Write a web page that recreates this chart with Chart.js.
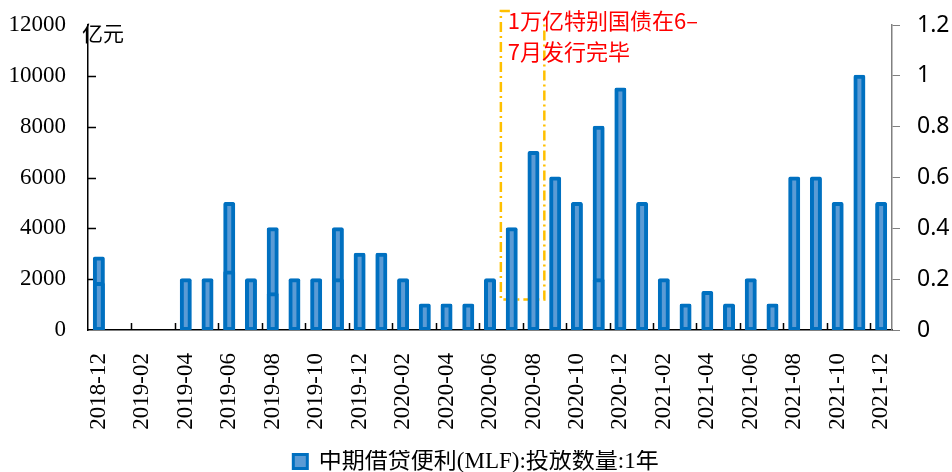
<!DOCTYPE html>
<html>
<head>
<meta charset="utf-8">
<script src="https://cdn.jsdelivr.net/npm/chart.js@4.4.1/dist/chart.umd.min.js"></script>
<style>
  html, body { margin: 0; padding: 0; background: #fff; }
</style>
</head>
<body>
<canvas id="mlf" width="952" height="472"></canvas>
<script>
const months = [
  '2018-12', '2019-01', '2019-02', '2019-03', '2019-04', '2019-05', '2019-06',
  '2019-07', '2019-08', '2019-09', '2019-10', '2019-11', '2019-12', '2020-01',
  '2020-02', '2020-03', '2020-04', '2020-05', '2020-06', '2020-07', '2020-08',
  '2020-09', '2020-10', '2020-11', '2020-12', '2021-01', '2021-02', '2021-03',
  '2021-04', '2021-05', '2021-06', '2021-07', '2021-08', '2021-09', '2021-10',
  '2021-11', '2021-12'
];

// monthly MLF volume (1y), 亿元
const mlfAmount = [
  2850, null, null, null, 2000, 2000, 5000,
  2000, 4000, 2000, 2000, 4000, 3000, 3000,
  2000, 1000, 1000, 1000, 2000, 4000, 7000,
  6000, 5000, 8000, 9500, 5000, 2000, 1000,
  1500, 1000, 2000, 1000, 6000, 6000, 5000,
  10000, 5000
];

// first operation of the month where there were two
const mlfFirstOp = [
  1850, null, null, null, null, null, 2300,
  null, 1450, null, null, 2000, null, null,
  null, null, null, null, null, null, null,
  null, null, 2000, null, null, null, null,
  null, null, null, null, null, null, null,
  null, null
];

const seriesName = '中期借贷便利(MLF):投放数量:1年';
const bondWindow = ['2020-07', '2020-08'];
const bondBoxFloor = 1200;
const bondNoteLines = ['1万亿特别国债在6–', '7月发行完毕'];

const serif = "'Liberation Serif', 'Noto Sans CJK SC', serif";
const cjk = "'Noto Sans CJK SC', sans-serif";

const barStyle = {
  backgroundColor: '#5B9BD5',
  borderColor: '#0070C0',
  borderWidth: 4,
  borderRadius: 2,
  borderSkipped: false,
  inflateAmount: 1,
  barPercentage: 0.46,
  categoryPercentage: 1,
  grouped: false,
  yAxisID: 'y'
};

// fixed-width value axes; drop the label overhang so layout.padding sets the top
const fixWidth = w => s => {
  s.width = w;
  s.paddingTop = 0;
  s.paddingBottom = 0;
};

// short tick marks pointing into the plot on the left and bottom axes
const inwardTicks = {
  id: 'inwardTicks',
  beforeDatasetsDraw(chart) {
    const { ctx, chartArea, scales: { x, y } } = chart;
    ctx.save();
    ctx.strokeStyle = '#000';
    ctx.lineWidth = 1.5;
    ctx.beginPath();
    y.ticks.forEach(t => {
      if (t.value === y.min || t.value === y.max) return;
      const py = Math.round(y.getPixelForValue(t.value)) + 0.5;
      ctx.moveTo(chartArea.left, py);
      ctx.lineTo(chartArea.left + 8, py);
    });
    for (let i = 2; i < months.length; i += 2) {
      const px = Math.round((x.getPixelForValue(i - 1) + x.getPixelForValue(i)) / 2) + 0.5;
      ctx.moveTo(px, chartArea.bottom);
      ctx.lineTo(px, chartArea.bottom - 7);
    }
    ctx.stroke();
    ctx.restore();
  }
};

// dash-dot box around the special treasury bond months, with its note
const bondNote = {
  id: 'bondNote',
  beforeDatasetsDraw(chart) {
    const { ctx, chartArea, scales: { x, y } } = chart;
    const i0 = months.indexOf(bondWindow[0]);
    const i1 = months.indexOf(bondWindow[1]);
    const half = (x.getPixelForValue(1) - x.getPixelForValue(0)) / 2;
    const left = x.getPixelForValue(i0) - half;
    const right = x.getPixelForValue(i1) + half;
    const top = chartArea.top - 14;
    const bottom = y.getPixelForValue(bondBoxFloor);

    ctx.save();
    ctx.strokeStyle = '#FFC000';
    ctx.lineWidth = 2.5;
    ctx.setLineDash([10, 4, 2, 4]);
    ctx.beginPath();
    ctx.moveTo(left + 9, top);
    ctx.lineTo(left, top);
    ctx.lineTo(left, bottom);
    ctx.lineTo(right, bottom);
    ctx.lineTo(right, top + 10);
    ctx.stroke();

    ctx.fillStyle = '#FF0000';
    ctx.font = '22px ' + cjk;
    ctx.textBaseline = 'middle';
    ctx.textAlign = 'left';
    ctx.fillText(bondNoteLines[0], left + 7, top + 10);
    ctx.fillText(bondNoteLines[1], left + 7, top + 41);
    ctx.restore();
  },
  afterDraw(chart) {
    const { ctx, chartArea } = chart;
    ctx.save();
    ctx.fillStyle = '#000';
    ctx.font = '21px ' + cjk;
    ctx.textBaseline = 'middle';
    ctx.textAlign = 'left';
    ctx.fillText('亿元', chartArea.left - 6, chartArea.top + 8);
    ctx.restore();
  }
};

new Chart(document.getElementById('mlf').getContext('2d'), {
  type: 'bar',
  data: {
    labels: months,
    datasets: [
      Object.assign({ label: seriesName, data: mlfAmount, order: 1 }, barStyle),
      Object.assign({ label: seriesName, data: mlfFirstOp, order: 0 }, barStyle)
    ]
  },
  options: {
    responsive: false,
    animation: false,
    layout: { padding: { top: 25, bottom: -11, left: 0, right: 0 } },
    plugins: {
      tooltip: { enabled: false },
      legend: {
        position: 'bottom',
        labels: {
          color: '#000',
          font: { family: serif, size: 23 },
          boxWidth: 14,
          boxHeight: 14,
          padding: 0,
          generateLabels(chart) {
            return Chart.defaults.plugins.legend.labels.generateLabels(chart)
              .filter(item => item.datasetIndex === 0)
              .map(item => Object.assign(item, { lineWidth: 3 }));
          }
        }
      }
    },
    scales: {
      x: {
        grid: { display: false },
        border: { color: '#000', width: 1.5 },
        ticks: {
          autoSkip: false,
          minRotation: 90,
          maxRotation: 90,
          padding: 15,
          color: '#000',
          font: { family: serif, size: 23 },
          callback: (v, i) => (i % 2 === 0 ? months[i] : '')
        },
        afterFit(s) { s.height = 120; }
      },
      y: {
        position: 'left',
        min: 0,
        max: 12000,
        grid: { display: false },
        border: { color: '#000', width: 1.5 },
        ticks: {
          stepSize: 2000,
          padding: 14,
          color: '#000',
          font: { family: serif, size: 23 },
          callback: v => String(v)
        },
        afterFit: fixWidth(88)
      },
      y1: {
        position: 'right',
        min: 0,
        max: 1.2,
        grid: { drawOnChartArea: false, color: '#808080', tickLength: 8, lineWidth: 1 },
        border: { color: '#808080', width: 1.5 },
        ticks: {
          stepSize: 0.2,
          padding: 17,
          color: '#000',
          font: { family: "'Noto Sans', sans-serif", size: 23 },
          callback: v => String(+v.toFixed(1))
        },
        afterFit: fixWidth(60)
      }
    }
  },
  plugins: [inwardTicks, bondNote]
});
</script>
</body>
</html>
